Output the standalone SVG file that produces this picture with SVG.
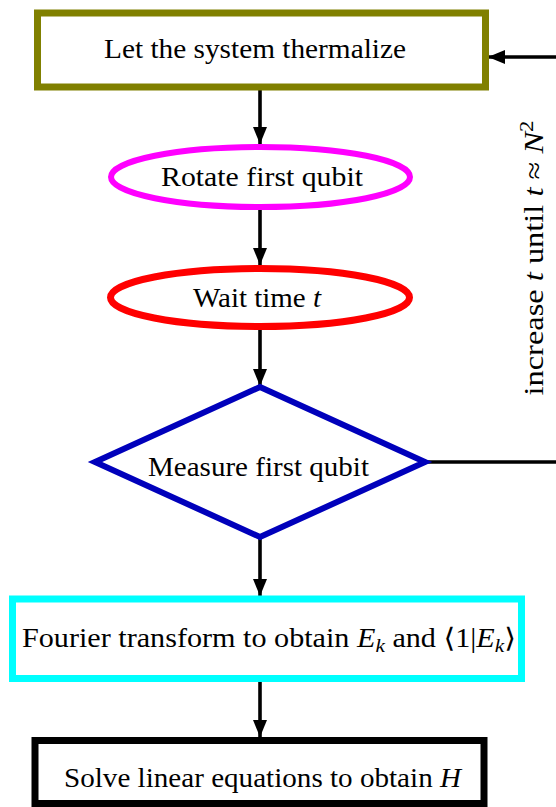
<svg xmlns="http://www.w3.org/2000/svg" width="556" height="807" viewBox="0 0 556 807">
<defs>
<style>
.t{font-family:"Liberation Serif","DejaVu Serif",serif;font-size:27px;fill:#000;text-anchor:middle}
.i{font-style:italic}
.s{font-size:19px}
.c{stroke:#000;stroke-width:3.6;fill:none}
</style>
<marker id="ah2" markerWidth="17" markerHeight="14" refX="17" refY="7" orient="auto" markerUnits="userSpaceOnUse" viewBox="0 0 17 14">
<path d="M0,0 L17,7 L0,14 Z" fill="#000"/>
</marker>
</defs>
<rect width="556" height="807" fill="#fff"/>
<g id="connectors">
<line class="c" x1="260" y1="90" x2="260" y2="144" marker-end="url(#ah2)"/>
<line class="c" x1="260" y1="210" x2="260" y2="265" marker-end="url(#ah2)"/>
<line class="c" x1="260" y1="330" x2="260" y2="386" marker-end="url(#ah2)"/>
<line class="c" x1="260" y1="538" x2="260" y2="596" marker-end="url(#ah2)"/>
<line class="c" x1="260" y1="682" x2="260" y2="737" marker-end="url(#ah2)"/>
<line class="c" x1="425" y1="462" x2="560" y2="462"/>
<line class="c" x1="560" y1="57" x2="488" y2="57" marker-end="url(#ah2)"/>
<text class="t" transform="translate(543,258) rotate(-90)" textLength="275" lengthAdjust="spacingAndGlyphs">increase <tspan class="i">t</tspan> until <tspan class="i">t</tspan> ≈ <tspan class="i">N</tspan><tspan class="s" dy="-10">2</tspan></text>
</g>
<g id="thermalize">
<rect x="37.5" y="13" width="448" height="74" fill="#fff" stroke="#808000" stroke-width="7"/>
<text class="t" x="255" y="58" textLength="302" lengthAdjust="spacingAndGlyphs">Let the system thermalize</text>
</g>
<g id="rotate">
<ellipse cx="260.5" cy="177" rx="149.5" ry="30" fill="#fff" stroke="#ff00ff" stroke-width="6"/>
<text class="t" x="262" y="186" textLength="202" lengthAdjust="spacingAndGlyphs">Rotate first qubit</text>
</g>
<g id="wait">
<ellipse cx="260" cy="297.5" rx="149.5" ry="29" fill="#fff" stroke="#ff0000" stroke-width="7"/>
<text class="t" x="257" y="307" textLength="128" lengthAdjust="spacingAndGlyphs">Wait time <tspan class="i">t</tspan></text>
</g>
<g id="measure">
<polygon points="260,387 425,462 260,537 95,462" fill="#fff" stroke="#0000bb" stroke-width="6" stroke-linejoin="miter"/>
<text class="t" x="258.5" y="476" textLength="221" lengthAdjust="spacingAndGlyphs">Measure first qubit</text>
</g>
<g id="fourier">
<rect x="12.5" y="599" width="509" height="79.5" fill="#fff" stroke="#00ffff" stroke-width="7"/>
<text class="t" x="269" y="647" textLength="494" lengthAdjust="spacingAndGlyphs">Fourier transform to obtain <tspan class="i">E</tspan><tspan class="i s" dy="5">k</tspan><tspan dy="-5"> and ⟨1|</tspan><tspan class="i">E</tspan><tspan class="i s" dy="5">k</tspan><tspan dy="-5">⟩</tspan></text>
</g>
<g id="solve">
<rect x="35" y="740.5" width="449" height="63" fill="#fff" stroke="#000" stroke-width="7"/>
<text class="t" x="262.5" y="787" textLength="397" lengthAdjust="spacingAndGlyphs">Solve linear equations to obtain <tspan class="i">H</tspan></text>
</g>
</svg>
